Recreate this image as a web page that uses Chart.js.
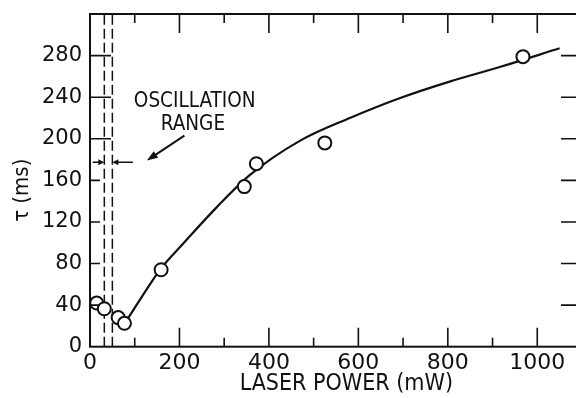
<!DOCTYPE html>
<html>
<head>
<meta charset="utf-8">
<script src="https://cdn.jsdelivr.net/npm/chart.js@4.4.1/dist/chart.umd.min.js"></script>
<style>
  html, body { margin: 0; padding: 0; background: #fff; overflow: hidden; }
  #wrap { width: 600px; height: 398px; }
</style>
</head>
<body>
<div id="wrap"><canvas id="tauChart" width="600" height="398"></canvas></div>
<script>
// measured points (laser power in mW, tau in ms)
const pointPower = [15, 32, 63, 77, 159, 345, 372, 525, 968];
const pointTau = [42, 36.5, 28, 22.5, 74, 154, 176, 196, 279];

// hand drawn trend curve
const curvePower = [77, 110, 134, 160, 208, 283, 357, 469, 581, 692, 804, 916, 1050];
const curveTau = [22, 44, 60, 76, 99, 134, 165, 198, 220, 239, 255, 269, 287];

// oscillation range borders (mW)
const rangeEdges = [32, 50];

// axis ticks
const xLabelTicks = [0, 200, 400, 600, 800, 1000];
const xMinorTicks = [100, 300, 500, 700, 900];
const yLabelTicks = [0, 40, 80, 120, 160, 200, 240, 280];

const ink = '#111';
const letterFont = "'Liberation Sans Narrow', 'DejaVu Sans Condensed', sans-serif";
const digitFont = "'DejaVu Sans', sans-serif";

// pair two arrays into {x, y} points
function toPoints (xs, ys) { return xs.map((v, i) => ({ x: v, y: ys[i] })); }

// vertical dashed line over whole y range
function edgeLine (xv) {
    return {
        type: 'line', data: [{ x: xv, y: 0 }, { x: xv, y: 320 }],
        borderColor: ink, borderWidth: 1.5, borderDash: [10, 4],
        pointRadius: 0, order: 3
    };
}

// small filled arrow head at (x2,y2) coming from (x1,y1)
function arrowHead (ctx, x1, y1, x2, y2, len, half) {
    const ang = Math.atan2(y2 - y1, x2 - x1);
    ctx.beginPath();
    ctx.moveTo(x2, y2);
    ctx.lineTo(x2 - len * Math.cos(ang) + half * Math.sin(ang), y2 - len * Math.sin(ang) - half * Math.cos(ang));
    ctx.lineTo(x2 - len * Math.cos(ang) - half * Math.sin(ang), y2 - len * Math.sin(ang) + half * Math.cos(ang));
    ctx.closePath();
    ctx.fill();
}

// frame with inward ticks + annotation
const frameAndNotes = {
    id: 'frameAndNotes',
    afterDatasetsDraw (chart) {
        const { ctx, chartArea: a, scales: { x, y } } = chart;
        ctx.save();
        ctx.strokeStyle = ink; ctx.fillStyle = ink;
        ctx.lineWidth = 2;
        ctx.strokeRect(a.left, a.top, a.right - a.left, a.bottom - a.top);

        ctx.lineWidth = 1.6;
        ctx.beginPath();
        xLabelTicks.concat(xMinorTicks).forEach((v) => {
            if (v === 0) return;
            const px = x.getPixelForValue(v);
            const len = xMinorTicks.includes(v) ? 9 : 19;
            ctx.moveTo(px, a.bottom); ctx.lineTo(px, a.bottom - len);
            ctx.moveTo(px, a.top); ctx.lineTo(px, a.top + len);
        });
        yLabelTicks.forEach((v) => {
            if (v === 0) return;
            const py = y.getPixelForValue(v);
            ctx.moveTo(a.left, py); ctx.lineTo(a.left + (v >= 200 ? 21 : 10), py);
            ctx.moveTo(a.right, py); ctx.lineTo(a.right - 21, py);
        });
        ctx.stroke();

        // arrows pointing at the oscillation range
        const yA = y.getPixelForValue(177.5);
        const l0 = x.getPixelForValue(6), l1 = x.getPixelForValue(rangeEdges[0]);
        const r0 = x.getPixelForValue(96), r1 = x.getPixelForValue(rangeEdges[1]);
        ctx.lineWidth = 1.5;
        ctx.beginPath();
        ctx.moveTo(l0, yA); ctx.lineTo(l1 - 3, yA);
        ctx.moveTo(r0, yA); ctx.lineTo(r1 + 3, yA);
        ctx.stroke();
        arrowHead(ctx, l0, yA, l1, yA, 6, 3);
        arrowHead(ctx, r0, yA, r1, yA, 6, 3);

        const ax0 = x.getPixelForValue(211), ay0 = y.getPixelForValue(203);
        const ax1 = x.getPixelForValue(127), ay1 = y.getPixelForValue(179);
        ctx.lineWidth = 2;
        ctx.beginPath(); ctx.moveTo(ax0, ay0); ctx.lineTo(ax1 + 6, ay1 - 4); ctx.stroke();
        arrowHead(ctx, ax0, ay0, ax1, ay1, 11, 4);

        ctx.font = "20.5px " + letterFont;
        ctx.textAlign = 'center'; ctx.textBaseline = 'middle';
        ctx.fillText('OSCILLATION', x.getPixelForValue(234), y.getPixelForValue(236));
        ctx.fillText('RANGE', x.getPixelForValue(230), y.getPixelForValue(214));
        ctx.restore();
    }
};

const tauChart = new Chart('tauChart', {
    type: 'scatter',
    data: {
        datasets: [
            {
                label: 'measured', data: toPoints(pointPower, pointTau),
                pointRadius: 6.5, pointBorderWidth: 2, pointBackgroundColor: '#fff',
                pointBorderColor: ink, showLine: false, order: 1
            },
            {
                type: 'line', label: 'fit', data: toPoints(curvePower, curveTau),
                borderColor: ink, borderWidth: 2.2, pointRadius: 0,
                cubicInterpolationMode: 'monotone', order: 2
            },
            edgeLine(rangeEdges[0]),
            edgeLine(rangeEdges[1])
        ]
    },
    options: {
        responsive: false,
        animation: false,
        devicePixelRatio: 1,
        layout: { padding: { top: 14, right: 18, left: 0, bottom: 0 } },
        plugins: { legend: { display: false }, tooltip: { enabled: false } },
        scales: {
            x: {
                type: 'linear', min: 0, max: 1100,
                afterBuildTicks: (s) => { s.ticks = xLabelTicks.map((v) => ({ value: v })); },
                afterFit: (s) => { s.height = 51.3; s.paddingLeft = 0; s.paddingRight = 0; },
                grid: { display: false, drawTicks: false }, border: { display: false },
                ticks: { color: ink, padding: 3, maxRotation: 0, callback: (v) => String(v),
                    font: { family: digitFont, size: 22 } },
                title: { display: true, text: '\u2003LASER POWER (mW)', color: ink, padding: 0,
                    font: { family: letterFont, size: 23 } }
            },
            y: {
                type: 'linear', min: 0, max: 320,
                afterBuildTicks: (s) => { s.ticks = yLabelTicks.map((v) => ({ value: v })); },
                afterFit: (s) => { s.width = 90; s.paddingTop = 0; s.paddingBottom = 0; },
                grid: { display: false, drawTicks: false }, border: { display: false },
                ticks: { color: ink, padding: 8, callback: (v) => String(v),
                    font: { family: digitFont, size: 21 } },
                title: { display: true, text: 'τ (ms)\u2003', color: ink, padding: { top: 9, bottom: 0 },
                    font: { family: letterFont, size: 22 } }
            }
        }
    },
    plugins: [frameAndNotes]
});
</script>
</body>
</html>
